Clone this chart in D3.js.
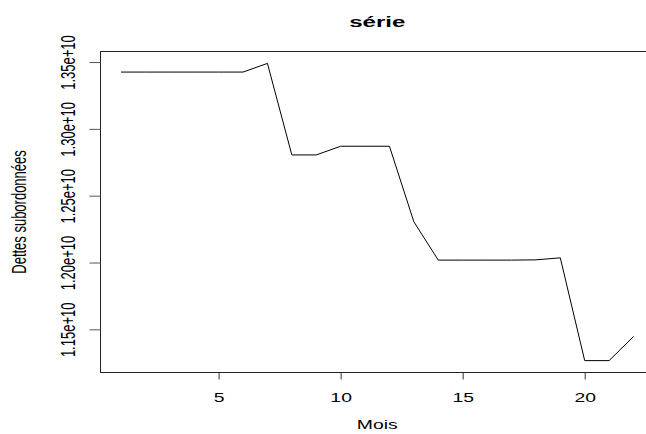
<!DOCTYPE html>
<html lang="fr">
<head>
<meta charset="UTF-8">
<title>série</title>
<script src="https://cdn.jsdelivr.net/npm/d3@7/dist/d3.min.js"></script>
<style>
  html, body { margin: 0; padding: 0; background: #fff; }
  text { font-family: "Liberation Sans", Arial, Helvetica, sans-serif; fill: #000; }
</style>
</head>
<body>
<svg id="mainsvg" width="646" height="434"></svg>
<script>
// data
const mois = d3.range(1, 23);
const dettes = [
  1.3425e10, 1.3425e10, 1.3425e10, 1.3425e10, 1.3425e10, 1.3425e10,
  1.3490e10, 1.2805e10, 1.2805e10, 1.2870e10, 1.2870e10, 1.2870e10,
  1.2305e10, 1.2018e10, 1.2018e10, 1.2018e10, 1.2018e10, 1.2020e10,
  1.2035e10, 1.1266e10, 1.1266e10, 1.1446e10
];
const xTicks = [5, 10, 15, 20];
const yTicks = [1.15e10, 1.20e10, 1.25e10, 1.30e10, 1.35e10];
const titre = "série";
const xLabel = "Mois";
const yLabel = "Dettes subordonnées";

const svg = d3.select('#mainsvg');
// plot frame (right border falls outside the picture)
const box = {left: 100.5, right: 654, top: 51.5, bottom: 372.5};
const sx = 1.55; // text is stretched horizontally in the reference

// R style 4% padding on both axes
const pad = (ext) => { const d = (ext[1] - ext[0]) * 0.04; return [ext[0] - d, ext[1] + d]; };
const x = d3.scaleLinear().domain(pad(d3.extent(mois))).range([box.left, box.right]);
const y = d3.scaleLinear().domain(pad(d3.extent(dettes))).range([box.bottom, box.top]);

// frame
svg.append('rect')
  .attr('x', box.left).attr('y', box.top)
  .attr('width', box.right - box.left).attr('height', box.bottom - box.top)
  .attr('fill', 'none').attr('stroke', '#222').attr('stroke-width', 1);

// x axis
const gx = svg.append('g')
  .attr('transform', `translate(0,${box.bottom})`)
  .call(d3.axisBottom(x).tickValues(xTicks).tickSize(7).tickSizeOuter(0).tickFormat(d3.format('d')));
gx.select('.domain').remove();
gx.selectAll('line').attr('stroke', '#333');
gx.selectAll('text')
  .attr('y', 0).attr('dy', 0)
  .attr('font-size', 12.5)
  .attr('transform', `translate(0,29.5) scale(${sx},1)`);

// y axis
const gy = svg.append('g')
  .attr('transform', `translate(${box.left},0)`)
  .call(d3.axisLeft(y).tickValues(yTicks).tickSize(11).tickSizeOuter(0).tickFormat(d => d.toExponential(2)));
gy.select('.domain').remove();
gy.selectAll('line').attr('stroke', '#555');
gy.selectAll('text')
  .attr('x', 0).attr('dy', 0)
  .attr('text-anchor', 'middle')
  .attr('font-size', 13)
  .attr('transform', `translate(-25.5,0) scale(${sx},1) rotate(-90)`);

// series line
svg.append('path')
  .datum(mois.map((m, i) => [m, dettes[i]]))
  .attr('fill', 'none')
  .attr('stroke', '#000')
  .attr('stroke-width', 1)
  .attr('d', d3.line().x(d => x(d[0])).y(d => y(d[1])));

// titles
const midX = (box.left + box.right) / 2;
svg.append('text')
  .attr('text-anchor', 'middle')
  .attr('font-size', 15.5).attr('font-weight', 'bold')
  .attr('transform', `translate(${midX},27) scale(${sx},1)`)
  .text(titre);

svg.append('text')
  .attr('text-anchor', 'middle')
  .attr('font-size', 12.5)
  .attr('transform', `translate(${midX},429) scale(${sx},1)`)
  .text(xLabel);

svg.append('text')
  .attr('text-anchor', 'middle')
  .attr('font-size', 13)
  .attr('transform', `translate(26,${(box.top + box.bottom) / 2}) scale(${sx},1) rotate(-90)`)
  .text(yLabel);
</script>
</body>
</html>
